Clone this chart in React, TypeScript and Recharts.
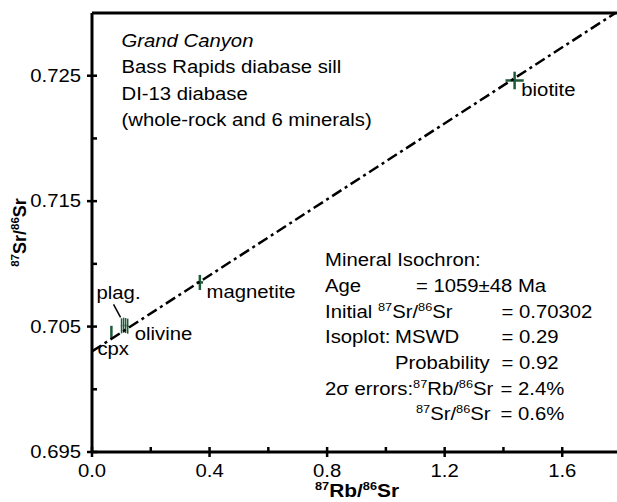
import React from "react";
import {
  ScatterChart,
  Scatter,
  XAxis,
  YAxis,
  ErrorBar,
  ReferenceLine,
  ReferenceDot,
} from "recharts";

const FONT = "'Liberation Sans', Arial, Helvetica, sans-serif";
const STRETCH = 1.16; // type is set a little wide
const GREEN = "#1f5a38";

// whole-rock + mineral separates, DI-13
const rbSr = [0.066, 0.1005, 0.1075, 0.1145, 0.1215, 0.367, 1.438];
const srSr = [0.70456, 0.70506, 0.70511, 0.70508, 0.70503, 0.70852, 0.72462];
const rbSrErr = [0.0016, 0.0024, 0.0026, 0.0028, 0.0029, 0.011, 0.031];
const srSrErr = [0.0005, 0.0006, 0.0006, 0.0006, 0.0006, 0.0006, 0.0007];

// isochron end points, starting at the initial ratio
const isoRb = [0, 1.8];
const isoSr = [0.70302, 0.73029];

const xTicks = [0, 0.2, 0.4, 0.6, 0.8, 1.0, 1.2, 1.4, 1.6, 1.8];
const xLabeled = [0, 0.4, 0.8, 1.2, 1.6];
const yTicks = [0.695, 0.7, 0.705, 0.71, 0.715, 0.72, 0.725];
const yLabeled = [0.695, 0.705, 0.715, 0.725];

const mineralNames = ["cpx", "plag.", "olivine", "magnetite", "biotite"];
const mineralPoint = [0, 1, 4, 5, 6];

// label offsets from their point, px
const labelOffsets = [
  { dx: -14, dy: 23 },
  { dx: -25, dy: -26.5 },
  { dx: 7, dy: 13.5 },
  { dx: 6.7, dy: 15.3 },
  { dx: 6.7, dy: 16 },
];

const points = rbSr.map((x, i) => ({ x, y: srSr[i], ex: rbSrErr[i], ey: srSrErr[i] }));
// the tight low-Rb group is drawn with thinner strokes so the bars stay apart
const clustered = points.slice(1, 5);
const spread = [points[0], ...points.slice(5)];
const isochron = isoRb.map((x, i) => ({ x, y: isoSr[i] }));

const near = (list: number[], v: number) => list.some((t) => Math.abs(t - v) < 1e-9);

function St({ x, y, anchor = "start", size = 17.5, bold = false, italic = false, children }: any) {
  return (
    <text
      transform={`translate(${x} ${y}) scale(${STRETCH} 1)`}
      textAnchor={anchor}
      fontSize={size}
      fontFamily={FONT}
      fontWeight={bold ? "bold" : "normal"}
      fontStyle={italic ? "italic" : "normal"}
      fill="#000"
    >
      {children}
    </text>
  );
}

// 87X/86Sr with superscript masses
function ratio(el: string, size = 17.5, sup = 11) {
  return [
    <tspan key="a" fontSize={sup} dy={-7}>87</tspan>,
    <tspan key="b" fontSize={size} dy={7}>{el}/</tspan>,
    <tspan key="c" fontSize={sup} dy={-7}>86</tspan>,
    <tspan key="d" fontSize={size} dy={7}>Sr</tspan>,
  ];
}

const XTick = ({ x, y, payload }: any) => {
  const v = payload.value;
  const major = near(xLabeled, v);
  return (
    <g>
      <line x1={x} x2={x} y1={y - 5} y2={major ? y + 5 : y} stroke="#000" strokeWidth={2.5} />
      {major && (
        <St x={x} y={y + 25} anchor="middle">
          {v.toFixed(1)}
        </St>
      )}
    </g>
  );
};

const YTick = ({ x, y, payload }: any) => {
  const v = payload.value;
  const major = near(yLabeled, v);
  return (
    <g>
      <line x1={major ? x - 5 : x} x2={x + 5} y1={y} y2={y} stroke="#000" strokeWidth={2.5} />
      {major && (
        <St x={x - 11} y={y + 6} anchor="end">
          {v.toFixed(3)}
        </St>
      )}
    </g>
  );
};

// text blocks, placed from the top-left corner of the plot
const Notes = ({ viewBox }: any) => {
  const ox = viewBox.x + (viewBox.width || 0) / 2;
  const oy = viewBox.y + (viewBox.height || 0) / 2;
  const L = ox + 233;
  return (
    <g>
      <St x={ox + 29.5} y={oy + 33.7} italic>Grand Canyon</St>
      <St x={ox + 29.5} y={oy + 60.2}>Bass Rapids diabase sill</St>
      <St x={ox + 29.5} y={oy + 86.7}>DI-13 diabase</St>
      <St x={ox + 29.5} y={oy + 113.2}>(whole-rock and 6 minerals)</St>

      <St x={L} y={oy + 253}>Mineral Isochron:</St>
      <St x={L} y={oy + 278.7}>Age</St>
      <St x={ox + 324} y={oy + 278.7}>= 1059±48 Ma</St>
      <St x={L} y={oy + 305.3}>Initial {ratio("Sr")}</St>
      <St x={ox + 409.5} y={oy + 305.3}>= 0.70302</St>
      <St x={L} y={oy + 330.3}>Isoplot:</St>
      <St x={ox + 303} y={oy + 330.3}>MSWD</St>
      <St x={ox + 409.5} y={oy + 330.3}>= 0.29</St>
      <St x={ox + 303} y={oy + 356.3}>Probability</St>
      <St x={ox + 409.5} y={oy + 356.3}>= 0.92</St>
      <St x={L} y={oy + 382}>2σ errors:{ratio("Rb")}</St>
      <St x={ox + 408.5} y={oy + 382}>= 2.4%</St>
      <St x={ox + 324} y={oy + 407}>{ratio("Sr")}</St>
      <St x={ox + 408.5} y={oy + 407}>= 0.6%</St>
    </g>
  );
};

const mineralLabel = (i: number) => ({ viewBox }: any) => {
  const cx = viewBox.x + (viewBox.width || 0) / 2;
  const cy = viewBox.y + (viewBox.height || 0) / 2;
  const { dx, dy } = labelOffsets[i];
  return (
    <g>
      {mineralNames[i] === "plag." && (
        <line x1={cx - 8} y1={cy - 21.5} x2={cx - 1} y2={cy - 8.5} stroke="#000" strokeWidth={1.5} />
      )}
      <St x={cx + dx} y={cy + dy}>{mineralNames[i]}</St>
    </g>
  );
};

const AxisTitleY = () => (
  <text
    transform="translate(25.5 232.5) rotate(-90)"
    textAnchor="middle"
    fontFamily={FONT}
    fontWeight="bold"
    fontSize={18}
    fill="#000"
  >
    {ratio("Sr", 18, 11.5)}
  </text>
);

export default function App() {
  return (
    <div
      style={{
        position: "absolute",
        left: 0,
        top: 0,
        width: 617,
        height: 502,
        overflow: "hidden",
        background: "#fff",
      }}
    >
      <ScatterChart width={630} height={502} margin={{ top: 13, right: 9, bottom: 0, left: 0 }}>
        <XAxis
          type="number"
          dataKey="x"
          domain={[0, 1.8]}
          ticks={xTicks}
          interval={0}
          height={50}
          tickSize={0}
          tickMargin={0}
          tickLine={false}
          axisLine={{ stroke: "#000", strokeWidth: 3 }}
          tick={<XTick />}
        />
        <YAxis
          type="number"
          dataKey="y"
          domain={[0.695, 0.73]}
          allowDataOverflow
          ticks={yTicks}
          interval={0}
          width={92}
          tickSize={0}
          tickMargin={0}
          tickLine={false}
          axisLine={{ stroke: "#000", strokeWidth: 3 }}
          tick={<YTick />}
        />
        <ReferenceLine y={0.73} stroke="#000" strokeWidth={3} />
        <Scatter
          data={isochron}
          isAnimationActive={false}
          shape={() => <g />}
          line={{ stroke: "#000", strokeWidth: 2.5, strokeDasharray: "11 4 3 4" }}
        />
        <Scatter data={spread} isAnimationActive={false} shape={() => <g />}>
          <ErrorBar dataKey="ex" direction="x" width={0} stroke={GREEN} strokeWidth={2.5} />
          <ErrorBar dataKey="ey" direction="y" width={0} stroke={GREEN} strokeWidth={2.5} />
        </Scatter>
        <Scatter data={clustered} isAnimationActive={false} shape={() => <g />}>
          <ErrorBar dataKey="ex" direction="x" width={0} stroke={GREEN} strokeWidth={1.5} />
          <ErrorBar dataKey="ey" direction="y" width={0} stroke={GREEN} strokeWidth={1.5} />
        </Scatter>
        {mineralNames.map((name, i) => (
          <ReferenceDot
            key={name}
            x={rbSr[mineralPoint[i]]}
            y={srSr[mineralPoint[i]]}
            r={0}
            fill="none"
            stroke="none"
            ifOverflow="visible"
            label={mineralLabel(i)}
          />
        ))}
        <ReferenceDot x={0} y={0.73} r={0} fill="none" stroke="none" ifOverflow="visible" label={<Notes />} />
      </ScatterChart>
      <svg
        width={617}
        height={502}
        style={{ position: "absolute", left: 0, top: 0, pointerEvents: "none" }}
      >
        <AxisTitleY />
        <St x={357} y={496.5} anchor="middle" bold size={18}>
          {ratio("Rb", 18, 11)}
        </St>
      </svg>
    </div>
  );
}
